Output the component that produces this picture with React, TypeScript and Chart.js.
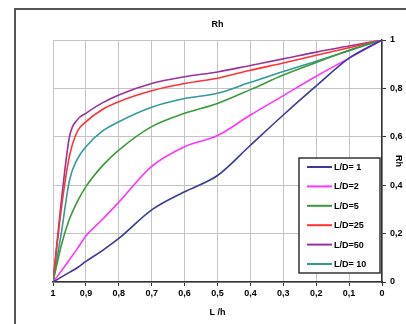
import React, { useEffect, useRef } from "react";
import { Chart, registerables } from "chart.js";

Chart.register(...registerables);

const X_VALUES = [1, 0.975, 0.95, 0.925, 0.9, 0.85, 0.8, 0.7, 0.6, 0.5, 0.4, 0.3, 0.2, 0.1, 0];
const LD1 = [0, 0.02, 0.04, 0.06, 0.085, 0.13, 0.18, 0.298, 0.373, 0.44, 0.565, 0.69, 0.81, 0.925, 1];
const LD2 = [0, 0.045, 0.092, 0.14, 0.19, 0.258, 0.33, 0.478, 0.559, 0.605, 0.69, 0.77, 0.85, 0.925, 1];
const LD5 = [0, 0.15, 0.26, 0.335, 0.394, 0.48, 0.545, 0.642, 0.697, 0.738, 0.795, 0.855, 0.907, 0.958, 1];
const LD25 = [0, 0.3, 0.52, 0.625, 0.662, 0.713, 0.745, 0.79, 0.82, 0.842, 0.875, 0.905, 0.937, 0.968, 1];
const LD50 = [0, 0.33, 0.6, 0.672, 0.697, 0.74, 0.773, 0.82, 0.848, 0.868, 0.895, 0.922, 0.95, 0.975, 1];
const LD10 = [0, 0.2, 0.42, 0.51, 0.559, 0.623, 0.662, 0.722, 0.758, 0.78, 0.825, 0.87, 0.912, 0.956, 1];

const SERIES_LABELS = ["L/D= 1", "L/D=2", "L/D=5", "L/D=25", "L/D=50", "L/D= 10"];
const SERIES_VALUES = [LD1, LD2, LD5, LD25, LD50, LD10];
const SERIES_COLORS = ["#3a3a9a", "#ff33ff", "#3a9a3a", "#ff3333", "#993399", "#339999"];

const TITLE = "Rh";
const X_TITLE = "L /h";
const Y_TITLE = "Rh";

const FONT = "'Liberation Sans', Arial, sans-serif";

const fmt = (v: number) => {
  const r = Math.round(v * 10) / 10;
  return String(r).replace(".", ",");
};

const decorPlugin = {
  id: "decor",
  beforeDraw(chart: any) {
    const { ctx, width, height } = chart;
    ctx.save();
    ctx.fillStyle = "#ffffff";
    ctx.fillRect(0, 0, width, height);
    ctx.strokeStyle = "#555555";
    ctx.lineWidth = 2;
    ctx.beginPath();
    ctx.moveTo(15, height + 5);
    ctx.lineTo(15, 9);
    ctx.lineTo(width + 5, 9);
    ctx.stroke();
    ctx.restore();
  },
  afterDraw(chart: any) {
    const { ctx, chartArea } = chart;
    const cx = (chartArea.left + chartArea.right) / 2;
    ctx.save();
    ctx.fillStyle = "#000";
    ctx.textAlign = "center";
    ctx.textBaseline = "middle";
    ctx.font = `bold 9px ${FONT}`;
    ctx.fillText(TITLE, cx, 25);
    ctx.fillText(X_TITLE, cx, 313);
    ctx.save();
    ctx.translate(398, (chartArea.top + chartArea.bottom) / 2);
    ctx.rotate(Math.PI / 2);
    ctx.fillText(Y_TITLE, 0, 0);
    ctx.restore();

    // legend
    const bx = 299, by = 158, bw = 81, bh = 115;
    ctx.fillStyle = "#fff";
    ctx.fillRect(bx, by, bw, bh);
    ctx.strokeStyle = "#333";
    ctx.lineWidth = 1.5;
    ctx.strokeRect(bx, by, bw, bh);
    ctx.textAlign = "left";
    ctx.font = `bold 9px ${FONT}`;
    SERIES_LABELS.forEach((lab, i) => {
      const y = 167 + i * 19.4;
      ctx.strokeStyle = SERIES_COLORS[i];
      ctx.lineWidth = 2;
      ctx.beginPath();
      ctx.moveTo(307, y);
      ctx.lineTo(332, y);
      ctx.stroke();
      ctx.fillStyle = "#000";
      ctx.fillText(lab, 334, y + 0.5);
    });
    ctx.restore();
  },
};

export default function App() {
  const ref = useRef<HTMLCanvasElement | null>(null);
  useEffect(() => {
    document.body.style.margin = "0";
    const canvas = ref.current!;
    const chart = new Chart(canvas, {
      type: "line",
      data: {
        datasets: SERIES_VALUES.map((vals, i) => ({
          label: SERIES_LABELS[i],
          data: X_VALUES.map((x, j) => ({ x, y: vals[j] })),
          borderColor: SERIES_COLORS[i],
          backgroundColor: SERIES_COLORS[i],
          borderWidth: 1.6,
          pointRadius: 0,
          cubicInterpolationMode: "monotone",
          fill: false,
        })),
      },
      options: {
        animation: false,
        responsive: false,
        devicePixelRatio: 1,
        layout: { padding: { left: 53, top: 40, right: 0, bottom: 0 } },
        plugins: {
          legend: { display: false },
          title: { display: false },
          tooltip: { enabled: false },
        },
        scales: {
          x: {
            type: "linear",
            reverse: true,
            min: 0,
            max: 1,
            afterFit: (s: any) => {
              s.height = 42;
            },
            ticks: {
              stepSize: 0.1,
              color: "#000",
              font: { family: FONT, size: 9, weight: "bold" },
              padding: 2,
              maxRotation: 0,
              autoSkip: false,
              callback: (v: any) => fmt(Number(v)),
            },
            grid: { color: "#c4c4c4", tickColor: "#333", tickLength: 4, lineWidth: 1 },
            border: { color: "#333", width: 1.5 },
          },
          y: {
            type: "linear",
            position: "right",
            min: 0,
            max: 1,
            afterFit: (s: any) => {
              s.width = 24;
            },
            ticks: {
              stepSize: 0.2,
              color: "#000",
              font: { family: FONT, size: 9, weight: "bold" },
              padding: 4,
              callback: (v: any) => fmt(Number(v)),
            },
            grid: { color: "#c4c4c4", tickColor: "#333", tickLength: 4, lineWidth: 1 },
            border: { color: "#333", width: 1.5 },
          },
        },
      },
      plugins: [decorPlugin],
    } as any);
    return () => chart.destroy();
  }, []);
  return (
    <div style={{ position: "fixed", left: 0, top: 0, width: 406, height: 324, background: "#fff" }}>
      <canvas ref={ref} width={406} height={324} style={{ width: 406, height: 324, display: "block" }} />
    </div>
  );
}
